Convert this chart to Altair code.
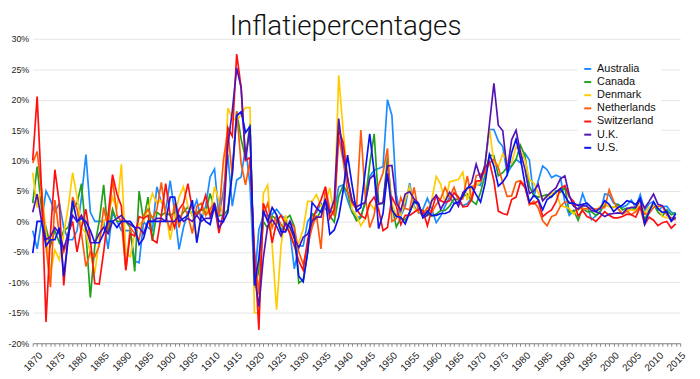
import altair as alt
import pandas as pd

years = list(range(1869, 2015))

australia = [
    -1.5, -4.5, 0, 5, 3.5, 1.5, 3, -1, -3, -3,
    -1.5, 4, 11, 1.5, 0, 0, 0, -4.5, 1.5, 0,
    -1.5, -1.5, -1.5, -6.5, -6.8, 0, -1, -1.5, 5.7, 3.2,
    2, 6.7, 1.6, -4.6, -1, 1.6, 1.5, 3.5, 0.3, 2.5,
    7.3, 8.6, 0.8, 5, 11, 2.5, 6.8, 7.3, 12.2, 6,
    -10, -1.3, 0.9, 1, 1.2, 2, 1, 0.5, -1.8, -7.8,
    -4, -4, 0, 1, 1.5, 3, 2, 1.7, 1.5, 5.7,
    6, 3.5, 1.5, 0.5, 0.9, 3, 7.4, 8.4, 8.7, 9,
    20, 17.4, 4.4, 0.9, 2.5, 6.3, 2.5, 1.4, 2, 3.8,
    2, -0.2, 0.9, 2.5, 4, 3, 3.2, 2.6, 2.9, 3.9,
    6.1, 5.9, 9.5, 15.1, 15.1, 13.2, 12.3, 7.9, 9.1, 10.2,
    9.6, 11.2, 10.1, 4.0, 6.7, 9.1, 8.5, 7.2, 7.6, 7.3,
    3.2, 1.0, 1.8, 1.9, 4.6, 2.6, 0.3, 0.9, 1.5, 4.5,
    4.4, 3.0, 2.8, 2.3, 2.7, 3.5, 2.3, 4.4, 1.8, 2.9,
    3.3, 1.8, 2.4, 2.5, 1.5, 1.3,
]

canada = [
    3, 9, 2, -1, -4, -1.5, -3.5, -1.5, -1, 2,
    3, 6.2, -2, -12.5, -4, 0, 6, -2, 2, 0,
    0, 0, -1, -8.2, 5, 0, 4, -3.2, 1.5, 1,
    1.5, 1, 1.5, 0.5, 1.5, 2.4, 1, 1.5, 2, 1.5,
    4.6, 2, 1, 1, 1.9, 8.3, 18.1, 13.5, 10.4, 16.1,
    -10.9, -8.1, 0, -1.1, 0.9, 0.3, -1.6, 0.4, 1.0, -0.8,
    -10.1, -9.6, -5.1, 1.3, 0.4, 1.8, 3.6, 0.9, -0.1, 4.1,
    5.9, 4.8, 1.7, 0.1, 0.6, 3.4, 9.4, 14.4, 3.0, 2.9,
    10.5, 2.5, -0.9, 0.6, 0.2, 1.5, 3.2, 2.7, 1.1, 1.2,
    0.9, 1.2, 1.8, 1.8, 2.5, 3.7, 3.6, 4.1, 4.5, 3.4,
    2.8, 4.8, 7.6, 10.9, 10.8, 7.5, 8.0, 8.9, 9.1, 10.2,
    12.5, 10.8, 5.8, 4.3, 4.0, 4.2, 4.4, 4.0, 5.0, 4.8,
    5.6, 1.5, 1.8, 0.2, 2.2, 1.6, 1.6, 1.0, 1.7, 2.7,
    2.5, 2.3, 2.8, 1.9, 2.2, 2.0, 2.1, 2.4, 0.3, 1.8,
    2.9, 1.5, 0.9, 1.9, 1.1, 1.4,
]

denmark = [
    8, 2.3, 5.5, -2, -8.5, -4.7, -6.3, -2, 2.3, 8,
    4, -1, -2, -5.2, -8.5, -3, 0, 1, 4, 2,
    9.4, -5.2, -5.8, -2, -0.5, 0, 2, 4.6, 3, 3.5,
    1.5, -3, 0.5, 4, 5.7, 2.5, 1, -3.2, 1, 2,
    1, 5.7, 3.5, 0.8, 18.6, 17, 16.5, 17.6, 18.7, 18.7,
    -15, -15, 4.6, 6, -4, -14.5, -4, 1, -1.3, -4,
    -3.5, -1.3, 3.3, 3.3, 4.4, 2.5, 3, 5.5, 1, 24,
    15, 7.4, 2, 1, -0.7, 0.5, 3, 2, 3, 3,
    7.6, 3, 0.9, 1, 3.6, 5.7, 2.2, 1.5, 1.8, 1.7,
    3.5, 7.4, 6.1, 3.1, 6.5, 6.7, 6.9, 8.1, 3.5, 5.8,
    5.8, 6.6, 9.3, 15.3, 9.6, 9.0, 11.1, 10.0, 9.6, 12.3,
    11.7, 10.1, 6.9, 6.3, 4.7, 3.6, 4.0, 4.6, 4.8, 2.6,
    2.4, 2.1, 1.2, 2.0, 2.1, 2.1, 2.2, 1.8, 2.5, 2.9,
    2.4, 2.4, 2.1, 1.2, 1.8, 1.9, 1.7, 3.4, 1.3, 2.3,
    2.8, 2.4, 0.8, 0.6, 0.5, 0.3,
]

netherlands = [
    9.6, 11.5, 5, -4, -10.8, 3.5, -2, -5, -3, 4,
    2, -2, -7.4, -5, -5.8, -4, 2.3, -1, 7, 1,
    0, -8, -1, -2, -3, 1, 2, 0.5, 2, 6.4,
    1, -1.5, 3, -1, 2.5, 1, -2, 2.5, 3, 1,
    2, 3, 1, 10, 15, 7.5, 18, 9.5, 6, 10,
    -5, -12, 1, 3, -1, 1, -0.5, -1.5, 0, -1,
    -5, -7, -4, -1, 1, -4.5, 5.7, 2, 1, 14,
    10, 5, 3, 2, 15, 4, -1, 1, 6, 8,
    12, 0, 0.5, 3.9, 2.1, 1.9, 5.6, 1.6, 1.0, 2.3,
    1.5, 2.8, 3.7, 5.6, 4.0, 5.6, 3.5, 3.7, 7.5, 3.6,
    7.5, 7.8, 8.0, 9.6, 10.2, 8.8, 6.4, 4.1, 4.2, 6.5,
    6.7, 5.9, 2.7, 3.3, 2.2, 0.1, -0.7, 0.8, 1.1, 2.5,
    3.2, 3.2, 2.6, 2.8, 2.0, 2.1, 2.2, 2.0, 2.2, 2.3,
    5.2, 3.3, 2.1, 1.2, 1.7, 1.1, 1.6, 2.5, 1.2, 1.3,
    2.3, 2.5, 2.5, 1.0, 0.6, 0.3,
]

switzerland = [
    10, 20.5, 5, -16.5, -2, 8.5, 3, -10.5, -2, 0,
    -5, -1, 2, -3, -10.2, -10.3, -5, 1, 7.7, 4.5,
    2.5, -8, -2, -2.4, 0.8, 0.5, 1, -3, -3.5, 1,
    6.2, 1, -1, 2, 3, 6.2, 2, 1, 2, 4.3,
    1, 2.5, -1.9, 1.5, 15.4, 14, 27.5, 22, 10, 10.5,
    -5, -17.8, 3, 1, -3.5, 0, 1, -0.5, -2, -4,
    -6.5, -8, -3, 0, 2, 3.5, 5.7, 0.5, 2, 15,
    13, 7, 3.5, 2, 1, 0.5, 3, 4, 2, -1.5,
    -1, 4, 2.5, -0.5, 1, 1, 1.5, 2, 1.8, -0.7,
    1.9, 4.3, 3.4, 3.1, 3.4, 4.7, 4.0, 2.4, 2.5, 3.6,
    6.6, 6.7, 8.8, 9.8, 6.7, 1.7, 1.3, 1.1, 3.6, 4.0,
    6.5, 5.6, 3.0, 2.9, 3.4, 0.8, 1.4, 1.9, 3.2, 5.4,
    5.9, 4.0, 3.3, 0.9, 1.8, 0.8, 0.5, 0.0, 0.8, 1.6,
    1.0, 0.6, 0.6, 0.8, 1.2, 1.1, 0.7, 2.4, -0.5, 0.7,
    0.2, -0.7, -0.2, 0.0, -1.1, -0.4,
]

uk = [
    1.5, 4.5, 0, -3, -2.5, -1, -2, -4.5, -2, 1,
    0, 1, -1, -3.5, -3.5, -2, -1, -2, 0, 0.5,
    1, 0, -0.5, -1, -1, -2, 0, 0, 0.5, 0.5,
    0, 0, 0, 1, 0, 0.5, 0, 1, 0, 0.5,
    0.5, 3, -1, 0, 12.5, 18.1, 25.2, 22.0, 10.1, 15.4,
    -8.6, -14.0, -6.0, -0.7, 0.3, -0.8, -2.4, -0.3, -0.9, -2.8,
    -4.3, -2.6, -2.1, 0, 0.7, 0.7, 3.4, 1.4, 3.5, 16.9,
    10.8, 7.1, 3.4, 2.4, 2.8, 3.1, 7.0, 7.7, 2.8, 3.1,
    9.1, 9.2, 3.1, 1.8, 4.5, 4.9, 3.7, 3.0, 0.6, 1.0,
    3.4, 4.3, 2.0, 3.3, 4.8, 3.9, 2.5, 4.7, 5.4, 6.4,
    9.4, 7.1, 9.2, 16.0, 22.7, 15.8, 14.9, 8.3, 13.4, 15,
    11.3, 8.6, 4.6, 5.0, 6.1, 3.4, 4.2, 4.9, 5.5, 7.0,
    7.5, 4.3, 2.5, 2.0, 2.6, 2.5, 1.8, 1.6, 1.3, 0.8,
    1.2, 1.3, 1.4, 1.3, 2.1, 2.3, 2.3, 3.6, 2.2, 3.3,
    4.5, 2.8, 2.6, 1.5, 0.0, 0.7,
]

us = [
    -5.2, 0, 0, -4, -3, -3, -1, -9, -3, 3.4,
    0, 0.5, 0, -1.5, -3.5, -3.5, -2, 0, 0, -1,
    0, 0, 0, -1, -3.8, -2.8, 0, 0, 0, 0,
    0, 4, 4, 0, 0.5, 1, 3.5, -3.5, 1, 0,
    -0.5, 2.5, 0, 0, 1.5, 7.9, 17.4, 18.0, 14.6, 15.6,
    -10.5, -6.1, 1.8, 0, 2.3, 1.1, -1.7, -1.7, 0, -2.3,
    -9.0, -9.9, -5.1, 3.1, 2.2, 1.5, 3.6, -2.1, -1.4, 0.7,
    5.0, 10.9, 6.1, 1.7, 2.3, 8.3, 14.4, 8.1, -1.2, 1.3,
    7.9, 1.9, 0.8, 0.7, -0.4, 1.5, 3.3, 2.8, 0.7, 1.7,
    1.0, 1.0, 1.3, 1.3, 1.6, 2.9, 3.1, 4.2, 5.5, 5.7,
    4.4, 3.2, 6.2, 11.0, 9.1, 5.8, 6.5, 7.6, 11.3, 13.5,
    10.3, 6.2, 3.2, 4.3, 3.6, 1.9, 3.6, 4.1, 4.8, 5.4,
    4.2, 3.0, 3.0, 2.6, 2.8, 3.0, 2.3, 1.6, 2.2, 3.4,
    2.8, 1.6, 2.3, 2.7, 3.4, 3.2, 2.8, 3.8, -0.4, 1.6,
    3.2, 2.1, 1.5, 1.6, 0.1, 1.3,
]

countries = ["Australia", "Canada", "Denmark", "Netherlands", "Switzerland", "U.K.", "U.S."]
colors = ["#1a8cff", "#22a01c", "#ffcc00", "#ff5a0a", "#ff1010", "#5414b4", "#0a14f0"]
series = [australia, canada, denmark, netherlands, switzerland, uk, us]

rows = []
for name, vals in zip(countries, series):
    for y, v in zip(years, vals):
        rows.append({"year": y, "value": v, "country": name})
df = pd.DataFrame(rows)

chart = alt.Chart(df).mark_line(strokeWidth=1.7).encode(
    x=alt.X("year:Q",
            scale=alt.Scale(domain=[1869, 2015], nice=False, zero=False),
            axis=alt.Axis(values=list(range(1869, 2016)), format="d",
                          labelExpr="datum.value % 5 === 0 ? datum.label : ''",
                          labelAngle=-45, labelAlign="right", labelBaseline="top",
                          labelFontSize=10, labelFont="Liberation Sans", labelColor="#222",
                          labelPadding=4, tickSize=3, tickColor="#888", domainColor="#888",
                          grid=False, title=None, labelOverlap=False)),
    y=alt.Y("value:Q",
            scale=alt.Scale(domain=[-20, 30], nice=False),
            axis=alt.Axis(values=list(range(-20, 31, 5)),
                          labelExpr="datum.value + '%'",
                          labelFontSize=9, labelFont="Liberation Sans", labelColor="#222",
                          ticks=False, domain=False, gridColor="#e6e6e6", labelPadding=4,
                          title=None)),
    color=alt.Color("country:N",
                    scale=alt.Scale(domain=countries, range=colors),
                    legend=alt.Legend(title=None, orient="none", legendX=551, legendY=20,
                                      symbolType="stroke", symbolStrokeWidth=2, symbolSize=50,
                                      labelFontSize=11, labelFont="Liberation Sans",
                                      labelColor="#111", rowPadding=1.3, fillColor="white",
                                      padding=5)),
).properties(
    width=655, height=308,
    title=alt.TitleParams("Inflatiepercentages", font="Roboto", fontSize=28, fontWeight=300,
                          color="#111", anchor="middle", dx=-11, offset=-6),
    padding={"left": 25, "top": 29, "right": 12, "bottom": 30},
    autosize=alt.AutoSizeParams(type="none"),
).configure_view(stroke=None)

chart.save("out.html", embed_options={"renderer": "svg", "actions": False})
